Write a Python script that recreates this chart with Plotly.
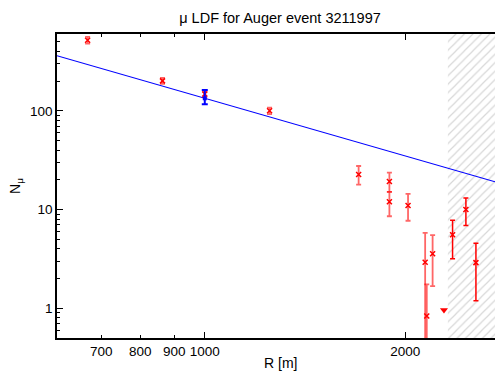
import numpy as np
import plotly.graph_objects as go

# ---- data ----
R_in = [667, 864, 1000, 1251, 1702, 1893, 1893, 2019, 2142, 2154, 2198]
N_in = [518, 201, 148, 100, 22.6, 19.2, 12.0, 11.0, 2.92, 0.835, 3.56]
hi_in = [560, 215, 156, 108, 27.6, 23.7, 15.1, 14.4, 5.8, 1.75, 5.5]
lo_in = [480, 188, 138, 92.6, 17.9, 15.1, 8.55, 7.7, 0.1, 0.1, 1.68]

R_out = [2355, 2466, 2553]
N_out = [5.55, 10.0, 2.9]
hi_out = [7.8, 13.1, 4.57]
lo_out = [3.18, 6.9, 1.19]

R_lim = [2286]
N_lim = [0.96]

R_fit_pt = [1000]
N_fit_pt = [134]
hi_fit_pt = [163]
lo_fit_pt = [116.6]

fit_norm = 134.0      # N at 1000 m
fit_slope = -1.94
R_range = [600, 2727]
cut_R = 2317
y_range = [0.5, 600]

x_major = [1000, 2000]
x_minor_labeled = [700, 800, 900]
y_ticks = [1, 10, 100]

def err(N, hi, lo):
    N = np.array(N); return dict(type="data", symmetric=False,
                                 array=np.array(hi) - N, arrayminus=N - np.array(lo))

fig = go.Figure()

# hatched excluded region
fig.add_trace(go.Scatter(
    x=[cut_R, R_range[1] * 1.2, R_range[1] * 1.2, cut_R, cut_R],
    y=[y_range[0] * 0.5, y_range[0] * 0.5, y_range[1] * 2, y_range[1] * 2, y_range[0] * 0.5],
    fill="toself", mode="lines", line=dict(width=0, color="rgba(0,0,0,0)"),
    fillcolor="white",
    fillpattern=dict(shape="/", fgcolor="#b0b0b0", bgcolor="white", size=6, solidity=0.2),
    hoverinfo="skip", showlegend=False))

# fit line
Rf = np.array(R_range, dtype=float)
fig.add_trace(go.Scatter(x=Rf, y=fit_norm * (Rf / 1000.0) ** fit_slope, mode="lines",
                         line=dict(color="#0000ff", width=1.1), showlegend=False))

fig.add_trace(go.Scatter(x=R_in, y=N_in, mode="markers",
                         marker=dict(symbol="x-thin", size=5, color="red",
                                     line=dict(width=1.5, color="red")),
                         error_y=dict(**err(N_in, hi_in, lo_in), color="rgba(255,0,0,0.6)",
                                      thickness=1.8, width=2.5),
                         showlegend=False))
fig.add_trace(go.Scatter(x=R_out, y=N_out, mode="markers",
                         marker=dict(symbol="x-thin", size=5, color="red",
                                     line=dict(width=1.5, color="red")),
                         error_y=dict(**err(N_out, hi_out, lo_out), color="red",
                                      thickness=1.5, width=2.5),
                         showlegend=False))
fig.add_trace(go.Scatter(x=R_lim, y=N_lim, mode="markers",
                         marker=dict(symbol="triangle-down", size=7, color="red"),
                         showlegend=False))
fig.add_trace(go.Scatter(x=R_fit_pt, y=N_fit_pt, mode="markers",
                         marker=dict(symbol="square", size=4, color="#0000ff"),
                         error_y=dict(**err(N_fit_pt, hi_fit_pt, lo_fit_pt), color="#0000ff",
                                      thickness=2, width=3),
                         showlegend=False))

fam = "Liberation Sans, Arial, sans-serif"
font = dict(family=fam, size=13.5, color="black")
tfont = dict(family=fam, size=13.5, color="black")
xr = [np.log10(R_range[0]), np.log10(R_range[1])]

# labels of the minor ticks 700/800/900 (log axis -> annotation x is log10 of value)
annots = [dict(text=str(v), xref="x", yref="paper", x=float(np.log10(v)),
               y=-(351 - 338) / 304,
               xanchor="center", yanchor="middle", showarrow=False, font=tfont)
          for v in x_minor_labeled]
annots.append(dict(text="R [m]", xref="paper", yref="paper",
                   x=(280 - 57) / 438, y=-(363 - 338) / 304,
                   xanchor="center", yanchor="middle", showarrow=False,
                   font=dict(family=fam, size=14, color="black")))

fig.update_layout(
    width=495, height=371,
    margin=dict(l=57, r=0, t=34, b=33, autoexpand=False),
    paper_bgcolor="white", plot_bgcolor="white",
    font=font,
    title=dict(text="μ LDF for Auger event 3211997", x=280 / 495, xanchor="center",
               xref="container", y=1 - 18 / 371, yanchor="middle", yref="container",
               font=dict(size=14.5)),
    xaxis=dict(type="log", range=xr, automargin=False,
               tickvals=x_major, ticktext=[str(v) for v in x_major],
               tickfont=tfont,
               ticks="inside", ticklen=6, tickcolor="black", ticklabelstandoff=0,
               minor=dict(tickvals=[600] + x_minor_labeled, ticklen=3, ticks="inside",
                          tickcolor="black"),
               showline=True, linecolor="black", linewidth=1.5, mirror="ticks",
               showgrid=False, zeroline=False),
    yaxis=dict(type="log", range=[np.log10(y_range[0]), np.log10(y_range[1])],
               automargin=False,
               tickvals=y_ticks, ticktext=[str(v) for v in y_ticks],
               tickfont=tfont,
               ticks="inside", ticklen=6, tickcolor="black",
               minor=dict(tickvals=[0.6, 0.7, 0.8, 0.9, 2, 3, 4, 5, 6, 7, 8, 9,
                                    20, 30, 40, 50, 60, 70, 80, 90, 200, 300, 400, 500],
                          ticklen=3, ticks="inside", tickcolor="black"),
               showline=True, linecolor="black", linewidth=1.5, mirror=False,
               showgrid=False, zeroline=False,
               title=dict(text="N<sub>μ</sub>", standoff=6, font=dict(size=14))),
    annotations=annots,
)
fig.write_html("out.html", config={"displayModeBar": False},
               post_script="document.body.style.margin='0';document.body.style.overflow='hidden';")
